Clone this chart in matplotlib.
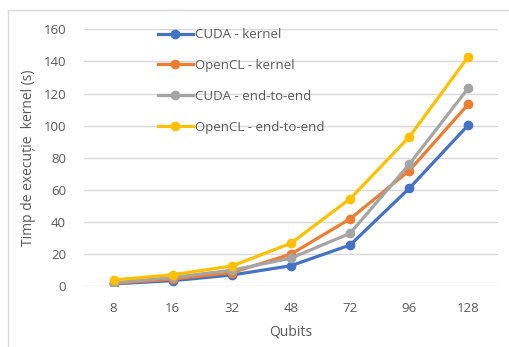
import matplotlib.pyplot as plt
from matplotlib.lines import Line2D

plt.rcParams['font.family'] = ['Open Sans', 'DejaVu Sans']

qubits = ['8', '16', '32', '48', '72', '96', '128']
cuda_kernel = [1.5, 3.5, 7, 12.8, 25.7, 61, 100.5]
opencl_kernel = [1.8, 4.5, 8.5, 20, 42, 72, 113.5]
cuda_e2e = [2.2, 5.5, 10, 17.5, 33, 76, 123.5]
opencl_e2e = [3.9, 7.2, 12.6, 26.8, 54.5, 93, 143]

labels = ['CUDA - kernel', 'OpenCL - kernel', 'CUDA - end-to-end', 'OpenCL - end-to-end']
colors = ['#4472C4', '#ED7D31', '#A5A5A5', '#FFC000']
series = [cuda_kernel, opencl_kernel, cuda_e2e, opencl_e2e]

txt = '#595959'

fig = plt.figure(figsize=(5.1, 3.47), dpi=100)
ax = fig.add_axes([0.1647, 0.175, 0.8118, 0.7406])

x = list(range(len(qubits)))
for vals, c, lab in zip(series, colors, labels):
    ax.plot(x, vals, color=c, lw=2.3, marker='o', ms=6, label=lab, zorder=3)

ax.set_xlim(-0.5, len(qubits) - 0.5)
ax.set_ylim(0, 160)
ax.set_yticks(range(0, 161, 20))
ax.set_xticks(x)
ax.set_xticklabels(qubits)
ax.grid(axis='y', color='#D9D9D9', lw=1)
ax.set_axisbelow(True)
for s in ax.spines.values():
    s.set_visible(False)
ax.tick_params(length=0, labelsize=9.5, colors=txt, pad=11)
ax.tick_params(axis='y', pad=13)
ax.set_xlabel('Qubits', fontsize=10, color=txt, labelpad=7)
ax.set_ylabel('Timp de execuție  kernel (s)', fontsize=10, color=txt, labelpad=5)

leg = ax.legend(loc='upper left', bbox_to_anchor=(0.165, 1.025), frameon=False,
                fontsize=9.5, handlelength=2.7, handletextpad=0.1,
                labelspacing=1.35, borderaxespad=0)
for t in leg.get_texts():
    t.set_color(txt)

# outer chart border (left and top only visible)
fig.add_artist(Line2D([8 / 510, 8 / 510], [0, 1 - 10 / 347], color='#D9D9D9', lw=1,
                      transform=fig.transFigure))
fig.add_artist(Line2D([8 / 510, 1], [1 - 10 / 347, 1 - 10 / 347], color='#D9D9D9', lw=1,
                      transform=fig.transFigure))

fig.savefig('out.png', dpi=100)
